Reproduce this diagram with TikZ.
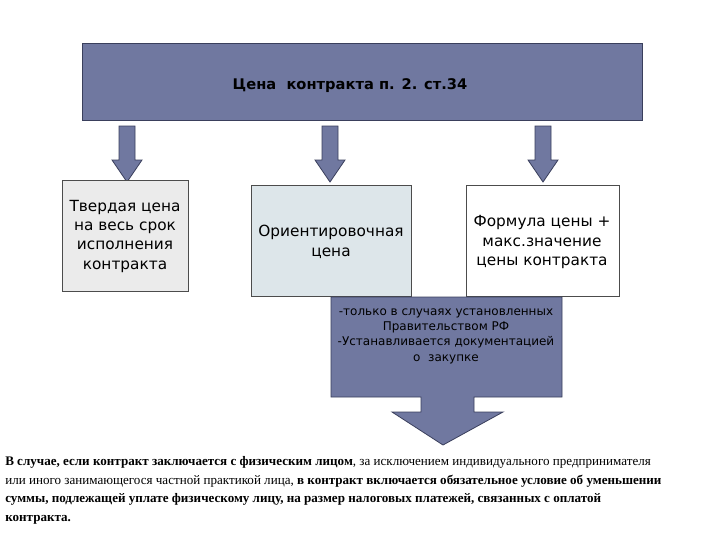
\documentclass[tikz,border=0pt]{standalone}
\usepackage{fontspec}
\setmainfont{Liberation Serif}
\newfontfamily\sansf{DejaVu Sans}
\definecolor{slate}{HTML}{7078A0}
\definecolor{edge}{HTML}{3A3F5C}
\definecolor{lblue}{HTML}{DDE6EA}
\begin{document}
\begin{tikzpicture}[x=0.75pt,y=-0.75pt,
  barrow/.style={draw=edge,fill=slate,line width=0.6pt},
  wbox/.style={draw=black!70,line width=0.6pt},
  btxt/.style={align=center,font=\sansf\fontsize{11.5}{14.5}\selectfont}]
\useasboundingbox (0,0) rectangle (720,540);
\fill[white] (0,0) rectangle (720,540);
\draw[barrow] (82,43) rectangle (642,120);
\node[font=\sansf\bfseries\fontsize{11}{13}\selectfont] (top) at (350,86) {Цена\ \ контракта п. 2. ст.34};
\foreach \cx in {127,330,543}{
  \draw[barrow] (\cx-8,126) -- (\cx+8,126) -- (\cx+8,160) -- (\cx+15,160) -- (\cx,182) -- (\cx-15,160) -- (\cx-8,160) -- cycle;}
\draw[wbox,fill=black!8] (62,180) rectangle (188,291);
\node[btxt] (b1) at (125,236) {Твердая цена\\на весь срок\\исполнения\\контракта};
\draw[wbox,fill=lblue] (251,185) rectangle (411,296);
\node[btxt] (b2) at (331,242) {Ориентировочная\\цена};
\draw[wbox,fill=white] (466,185) rectangle (619,296);
\node[btxt] (b3) at (542,242) {Формула цены +\\макс.значение\\цены контракта};
\draw[barrow] (331,297) -- (562,297) -- (562,397) -- (474,397) -- (474,412) -- (503,412) -- (443,445) -- (392,412) -- (421,412) -- (421,397) -- (331,397) -- cycle;
\node[align=center,font=\sansf\fontsize{9}{11.5}\selectfont] (c) at (446,336) {-только в случаях установленных\\Правительством РФ\\-Устанавливается документацией\\о\ \ закупке};
\node[anchor=north west,align=left,inner sep=0pt,font=\fontsize{9.8}{14}\selectfont] (t) at (5,456) {\textbf{В случае, если контракт заключается с физическим лицом}, за исключением индивидуального предпринимателя\\или иного занимающегося частной практикой лица, \textbf{в контракт включается обязательное условие об уменьшении}\\\textbf{суммы, подлежащей уплате физическому лицу, на размер налоговых платежей, связанных с оплатой}\\\textbf{контракта.}};
\end{tikzpicture}
\end{document}
